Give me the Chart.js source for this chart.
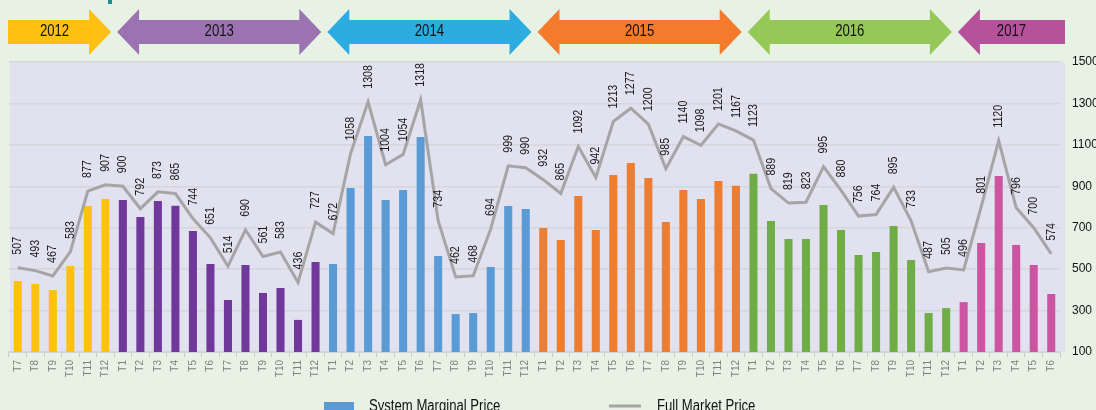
<!DOCTYPE html>
<html><head><meta charset="utf-8">
<script src="https://cdn.jsdelivr.net/npm/chart.js@4.4.0/dist/chart.umd.min.js"></script>
<style>html,body{margin:0;padding:0;background:#E7F2E5;overflow:hidden}canvas{display:block}</style>
</head><body><canvas id="c" width="1096" height="410"></canvas>
<script>
// ---- data ----
const categories = [
 'T7','T8','T9','T10','T11','T12',
 'T1','T2','T3','T4','T5','T6','T7','T8','T9','T10','T11','T12',
 'T1','T2','T3','T4','T5','T6','T7','T8','T9','T10','T11','T12',
 'T1','T2','T3','T4','T5','T6','T7','T8','T9','T10','T11','T12',
 'T1','T2','T3','T4','T5','T6','T7','T8','T9','T10','T11','T12',
 'T1','T2','T3','T4','T5','T6'];
const yearNames = ['2012','2013','2014','2015','2016','2017'];
const yearCounts = [6,12,12,12,12,6];
const yearBarColors = ['#FFC010','#70389A','#5B9BD5','#ED7D31','#70AD47','#CC55A2'];
const yearArrowColors = ['#FEC013','#9C73B1','#2DACE2','#F47A2C','#96C857','#B6529C'];
const systemMarginalPrice = [
 443,428,399,515,805,839,
 834,752,829,806,684,525,351,520,385,409,255,535,
 525,892,1143,834,882,1138,563,283,288,510,805,790,
 699,641,853,689,955,1013,940,728,882,839,926,902,
 960,733,646,646,810,689,568,583,708,544,288,312,
 341,626,950,617,520,380];
const fullMarketPrice = [
 507,493,467,583,877,907,
 900,792,873,865,744,651,514,690,561,583,436,727,
 672,1058,1308,1004,1054,1318,734,462,468,694,999,990,
 932,865,1092,942,1213,1277,1200,985,1140,1098,1201,1167,
 1123,889,819,823,995,880,756,764,895,733,487,505,
 496,801,1120,796,700,574];
const yTicks = [100,300,500,700,900,1100,1300,1500];
const seriesNames = ['System Marginal Price','Full Market Price'];

// ---- helpers ----
function hasFont(name){const c=document.createElement('canvas').getContext('2d');const t='T10 System 2012 Wgm';c.font='40px monospace';const a=c.measureText(t).width;c.font='40px "'+name+'", monospace';const b=c.measureText(t).width;return Math.abs(a-b)>0.5;}
const NARROW = hasFont('Liberation Sans Narrow');
function txt(ctx,s,x,y,size,color,align,baseline,rot){
  ctx.save();ctx.translate(x,y);if(rot)ctx.rotate(rot);
  ctx.fillStyle=color;ctx.textAlign=align;ctx.textBaseline=baseline;
  if(NARROW){ctx.font=size+'px "Liberation Sans Narrow"';}
  else{ctx.scale(0.82,1);ctx.font=size+'px "Liberation Sans", Arial, sans-serif';}
  ctx.fillText(s,0,0);ctx.restore();
}
const tickFont = (sz)=> NARROW ? {family:'Liberation Sans Narrow',size:sz} : {family:'Liberation Sans',size:Math.round(sz*0.88)};

const barColors = [];
yearCounts.forEach((n,i)=>{for(let k=0;k<n;k++)barColors.push(yearBarColors[i]);});

const decor = {
  id:'decor',
  beforeDraw(chart){
    const {ctx,chartArea:a}=chart;
    ctx.save();
    ctx.fillStyle='#E1E1F0';
    ctx.fillRect(a.left+1,a.top,a.right-a.left+4,a.bottom-a.top);
    // title fragment
    ctx.fillStyle='#1F8E8E';ctx.fillRect(108,0,4,4);
    ctx.restore();
  },
  afterDatasetsDraw(chart){
    const {ctx,chartArea:a}=chart;
    // data labels on line
    const meta=chart.getDatasetMeta(0);
    meta.data.forEach((p,i)=>{
      txt(ctx,String(fullMarketPrice[i]),p.x,p.y-13,13,'#1a1a1a','left','middle',-Math.PI/2);
    });
    // year arrows
    const w=(a.right-a.left)/categories.length;
    let start=0;
    const cy=32, bh=12, hh=23, hl=22;
    yearNames.forEach((yn,i)=>{
      const n=yearCounts[i];
      let L=a.left+start*w+3, R=a.left+(start+n)*w-3;
      const leftHead = i>0, rightHead = i<yearNames.length-1;
      if(!leftHead) L=a.left-1;
      if(!rightHead) R=a.right+5;
      ctx.save();ctx.fillStyle=yearArrowColors[i];ctx.beginPath();
      if(leftHead){ctx.moveTo(L,cy);ctx.lineTo(L+hl,cy-hh);ctx.lineTo(L+hl,cy-bh);}
      else{ctx.moveTo(L,cy-bh);}
      if(rightHead){ctx.lineTo(R-hl,cy-bh);ctx.lineTo(R-hl,cy-hh);ctx.lineTo(R,cy);ctx.lineTo(R-hl,cy+hh);ctx.lineTo(R-hl,cy+bh);}
      else{ctx.lineTo(R,cy-bh);ctx.lineTo(R,cy+bh);}
      if(leftHead){ctx.lineTo(L+hl,cy+bh);ctx.lineTo(L+hl,cy+hh);ctx.closePath();}
      else{ctx.lineTo(L,cy+bh);ctx.closePath();}
      ctx.fill();ctx.restore();
      let cx=(L+R)/2; if(!leftHead) cx-=5;
      txt(ctx,yn,cx,cy,16,'#111','center','middle',0);
      start+=n;
    });
    // legend
    ctx.save();
    ctx.fillStyle='#5B9BD5';ctx.fillRect(324,402,30,12);
    ctx.strokeStyle='#A5A5A5';ctx.lineWidth=3;ctx.beginPath();ctx.moveTo(609,406);ctx.lineTo(641,406);ctx.stroke();
    ctx.restore();
    txt(ctx,seriesNames[0],369,411,16,'#111','left','alphabetic',0);
    txt(ctx,seriesNames[1],657,411,16,'#111','left','alphabetic',0);
  }
};

new Chart(document.getElementById('c'),{
  type:'bar',
  data:{labels:categories,datasets:[
    {type:'line',label:seriesNames[1],data:fullMarketPrice,borderColor:'#A5A5A5',borderWidth:3,pointRadius:0,tension:0,order:0},
    {type:'bar',label:seriesNames[0],data:systemMarginalPrice,backgroundColor:barColors,borderWidth:0,categoryPercentage:1,barPercentage:0.46,order:1}
  ]},
  options:{
    responsive:false,animation:false,
    layout:{padding:{left:9,top:62,right:0,bottom:0}},
    plugins:{legend:{display:false},tooltip:{enabled:false}},
    scales:{
      x:{
        grid:{display:true,drawOnChartArea:false,drawTicks:true,tickLength:5,color:'#C8C8C8',offset:true},
        border:{display:true,color:'#D4D4D8',width:2},
        ticks:{maxRotation:90,minRotation:90,autoSkip:false,padding:3,color:'#7F7F7F',font:tickFont(11)},
        afterFit(s){s.height=58;}
      },
      y:{
        position:'right',min:100,max:1500,
        afterBuildTicks(s){s.ticks=yTicks.map(v=>({value:v}));},
        grid:{color:'#D6D6DC',lineWidth:1.5,drawTicks:false},
        border:{display:false},
        ticks:{padding:12,color:'#111',font:tickFont(14),callback:(v)=>String(v)},
        afterFit(s){s.width=36;}
      }
    }
  },
  plugins:[decor]
});
</script></body></html>
